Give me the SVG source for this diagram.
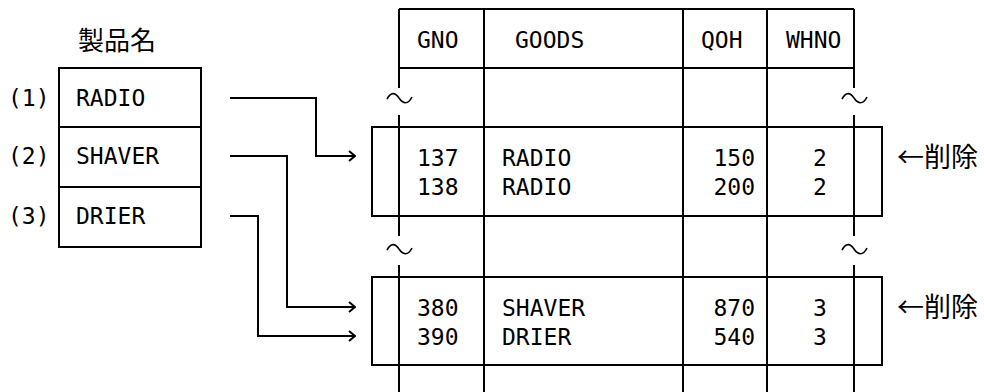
<svg xmlns="http://www.w3.org/2000/svg" width="984" height="392" viewBox="0 0 984 392">
<defs>
<style>
.ln{stroke:#000;stroke-width:2;fill:none}
.tl{stroke:#000;stroke-width:1.6;fill:none}
.t{font-family:"DejaVu Sans Mono","Liberation Mono",monospace;font-size:23px;fill:#000}
.j{font-family:"Noto Sans CJK JP",sans-serif;font-size:26px;fill:#000}
.e{text-anchor:end}
.m{text-anchor:middle}
</style>
<marker id="ah" viewBox="0 0 10 12" refX="9" refY="6" markerWidth="10" markerHeight="12" markerUnits="userSpaceOnUse" orient="auto">
<path d="M3,1 L9,6 L3,11" stroke="#000" stroke-width="2" fill="none"/>
</marker>
</defs>
<rect width="984" height="392" fill="#fff"/>

<g id="products">
<text class="j m" x="117" y="50">製品名</text>
<rect class="ln" x="59" y="68" width="142" height="179"/>
<line class="ln" x1="59" y1="127" x2="201" y2="127"/>
<line class="ln" x1="59" y1="187" x2="201" y2="187"/>
<text class="t" x="8" y="106">(1)</text>
<text class="t" x="8" y="164">(2)</text>
<text class="t" x="8" y="224">(3)</text>
<text class="t" x="76" y="106">RADIO</text>
<text class="t" x="76" y="164">SHAVER</text>
<text class="t" x="76" y="224">DRIER</text>
</g>

<g id="table">
<line class="ln" x1="399" y1="9" x2="854" y2="9"/>
<line class="ln" x1="399" y1="68" x2="854" y2="68"/>
<line class="ln" x1="399" y1="9" x2="399" y2="88"/>
<line class="ln" x1="399" y1="115" x2="399" y2="236"/>
<line class="ln" x1="399" y1="265" x2="399" y2="392"/>
<line class="ln" x1="854" y1="9" x2="854" y2="88"/>
<line class="ln" x1="854" y1="115" x2="854" y2="236"/>
<line class="ln" x1="854" y1="265" x2="854" y2="392"/>
<line class="ln" x1="484" y1="9" x2="484" y2="392"/>
<line class="ln" x1="683" y1="9" x2="683" y2="392"/>
<line class="ln" x1="767" y1="9" x2="767" y2="392"/>
<path class="tl" d="M387,99 C391,92 395,92 399,98 S408,105 412,97"/>
<path class="tl" d="M842,99 C846,92 850,92 854,98 S863,105 867,97"/>
<path class="tl" d="M387,250 C391,243 395,243 399,249 S408,256 412,248"/>
<path class="tl" d="M842,250 C846,243 850,243 854,249 S863,256 867,248"/>
<text class="t" x="417" y="48">GNO</text>
<text class="t" x="515" y="48">GOODS</text>
<text class="t" x="701" y="48">QOH</text>
<text class="t" x="786" y="48">WHNO</text>
</g>

<g id="row1">
<rect class="ln" x="372" y="127" width="510" height="89"/>
<text class="t" x="417" y="166">137</text>
<text class="t" x="417" y="195">138</text>
<text class="t" x="502" y="166">RADIO</text>
<text class="t" x="502" y="195">RADIO</text>
<text class="t e" x="755" y="166">150</text>
<text class="t e" x="755" y="195">200</text>
<text class="t m" x="820" y="166">2</text>
<text class="t m" x="820" y="195">2</text>
<text class="j" x="897" y="167" style="font-size:27px">←削除</text>
</g>

<g id="row2">
<rect class="ln" x="372" y="277" width="510" height="88"/>
<text class="t" x="417" y="316">380</text>
<text class="t" x="417" y="345">390</text>
<text class="t" x="502" y="316">SHAVER</text>
<text class="t" x="502" y="345">DRIER</text>
<text class="t e" x="755" y="316">870</text>
<text class="t e" x="755" y="345">540</text>
<text class="t m" x="820" y="316">3</text>
<text class="t m" x="820" y="345">3</text>
<text class="j" x="897" y="317" style="font-size:27px">←削除</text>
</g>

<g id="connectors">
<polyline class="ln" points="230,98 316,98 316,156 355,156" marker-end="url(#ah)"/>
<polyline class="ln" points="230,156 287,156 287,307 355,307" marker-end="url(#ah)"/>
<polyline class="ln" points="230,216 258,216 258,336 355,336" marker-end="url(#ah)"/>
</g>
</svg>
